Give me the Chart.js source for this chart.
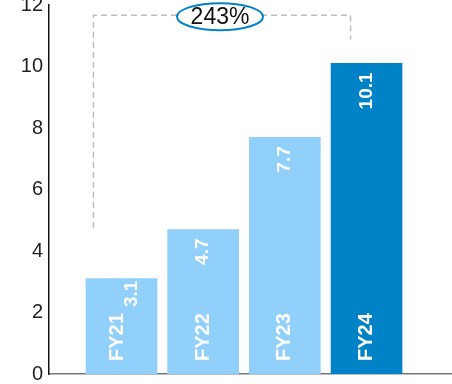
<!DOCTYPE html>
<html>
<head>
<meta charset="utf-8">
<script src="https://cdn.jsdelivr.net/npm/chart.js@4.4.1/dist/chart.umd.min.js"></script>
<style>
  html, body { margin: 0; padding: 0; background: #fff; }
  #wrap { width: 452px; height: 384px; }
</style>
</head>
<body>
<div id="wrap"><canvas id="chart" width="452" height="384"></canvas></div>
<script>
// datos del gráfico
const years = ['FY21', 'FY22', 'FY23', 'FY24'];
const values = [3.1, 4.7, 7.7, 10.1];
const yTicks = [0, 2, 4, 6, 8, 10, 12];
const growthLabel = '243%';

const lightBlue = '#90d0fa';
const darkBlue = '#0082c6';
const fontFam = '"Liberation Sans", Arial, sans-serif';

// etiquetas dentro de las barras + corchete de crecimiento
const labelsPlugin = {
  id: 'barLabels',
  afterDatasetsDraw(chart) {
    const ctx = chart.ctx;
    const meta = chart.getDatasetMeta(0);
    const yScale = chart.scales.y;

    ctx.save();
    ctx.fillStyle = '#fff';
    ctx.textBaseline = 'middle';
    meta.data.forEach((bar, i) => {
      // FY21 es estrecha, el valor va al lado
      const first = i === 0;
      // categoría abajo
      ctx.save();
      ctx.translate(bar.x + (first ? -4 : 0), bar.base - 13);
      ctx.rotate(-Math.PI / 2);
      ctx.font = 'bold 20px ' + fontFam;
      ctx.textAlign = 'left';
      ctx.fillText(years[i], 0, 0);
      ctx.restore();
      // valor arriba
      ctx.save();
      ctx.translate(bar.x + (first ? 10 : 0), bar.y + (first ? 2 : 9));
      ctx.rotate(-Math.PI / 2);
      ctx.font = 'bold 19px ' + fontFam;
      ctx.textAlign = 'right';
      ctx.fillText(values[i].toFixed(1), 0, 0);
      ctx.restore();
    });
    ctx.restore();

    // corchete punteado
    const b0 = meta.data[0], b3 = meta.data[3];
    const xl = b0.x - 28, xr = b3.x - 16;
    const yTop = yScale.getPixelForValue(11.67);
    ctx.save();
    ctx.strokeStyle = '#bdbdbd';
    ctx.lineWidth = 1.5;
    ctx.setLineDash([6, 4]);
    ctx.beginPath();
    ctx.moveTo(xl, b0.y - 51);
    ctx.lineTo(xl, yTop);
    ctx.lineTo(xr, yTop);
    ctx.lineTo(xr, b3.y - 24);
    ctx.stroke();
    ctx.setLineDash([]);

    // elipse con porcentaje
    const cx = (xl + xr) / 2 - 2;
    const cy = yTop + 1.5;
    ctx.beginPath();
    ctx.ellipse(cx, cy, 43, 13.5, 0, 0, Math.PI * 2);
    ctx.fillStyle = '#fff';
    ctx.fill();
    ctx.strokeStyle = darkBlue;
    ctx.lineWidth = 2;
    ctx.stroke();
    ctx.fillStyle = '#111';
    ctx.font = '23px ' + fontFam;
    ctx.textAlign = 'center';
    ctx.textBaseline = 'middle';
    ctx.fillText(growthLabel, cx, cy + 1);
    ctx.restore();
  }
};

const ctx = document.getElementById('chart').getContext('2d');
const chart = new Chart(ctx, {
  type: 'bar',
  data: {
    datasets: [{
      data: values.map((v, i) => ({ x: i, y: v })),
      backgroundColor: values.map((v, i) => i === values.length - 1 ? darkBlue : lightBlue),
      barThickness: 71,
      borderWidth: 0
    }]
  },
  options: {
    responsive: false,
    animation: false,
    layout: { padding: { top: 5, right: 0, bottom: 10, left: 0 } },
    plugins: {
      legend: { display: false },
      tooltip: { enabled: false }
    },
    scales: {
      x: {
        type: 'linear',
        min: -0.887,
        max: 4.046,
        offset: false,
        grid: { display: false, drawTicks: false },
        border: { display: true, color: '#777', width: 1.5 },
        ticks: { display: false },
        afterFit: (scale) => { scale.height = 0; scale.paddingLeft = 0; scale.paddingRight = 0; }
      },
      y: {
        min: 0,
        max: 12,
        afterBuildTicks: (scale) => { scale.ticks = yTicks.map(v => ({ value: v })); },
        afterFit: (scale) => { scale.width = 49; scale.paddingTop = 0; scale.paddingBottom = 0; },
        grid: { display: false, drawTicks: false },
        border: { display: true, color: '#111', width: 1.5 },
        ticks: {
          padding: 6,
          color: '#222',
          font: { family: fontFam, size: 20 }
        }
      }
    }
  },
  plugins: [labelsPlugin]
});
</script>
</body>
</html>
